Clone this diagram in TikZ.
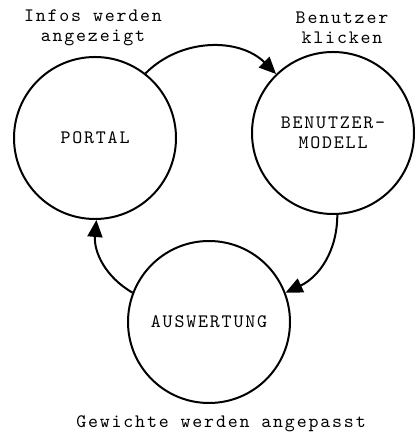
\documentclass[tikz,border=0pt]{standalone}
\usepackage{fontspec}
\usetikzlibrary{arrows.meta}
% spaced-out typewriter face for every text
\newfontfamily\typeface{lmmono10-regular}[Extension=.otf,LetterSpace=9.6]
\newcommand{\typefont}{\fontsize{19}{20}\typeface}
\begin{document}
\begin{tikzpicture}[x=1pt,y=1pt,
  state/.style={circle,draw,line width=2pt,inner sep=0pt,minimum size=162pt,
    align=center,font=\typefont},
  lbl/.style={align=center,font=\typefont},
  flow/.style={line width=2pt,-{Triangle[length=17pt,width=15pt]}}]
\useasboundingbox (0,0) rectangle (417,435);
% the three states of the cycle
\node[state] (portal) at (95,297) {PORTAL};
\node[state] (modell) at (333,302) {BENUTZER-\\MODELL};
\node[state] (auswertung) at (209,113) {AUSWERTUNG};
% labels above and below
\node[lbl] (lInfos) at (93,407) {Infos werden\\angezeigt};
\node[lbl] (lKlick) at (342,407) {Benutzer\\klicken};
\node[lbl] (lGew) at (221,11) {Gewichte werden angepasst};
% connectors
\draw[flow] (portal.52) to[out=45,in=135] (modell.134);
\draw[flow] (modell.273) to[out=-90,in=25] (auswertung.21);
\draw[flow] (auswertung.159) to[out=150,in=-95] (portal.271);
\end{tikzpicture}
\end{document}
